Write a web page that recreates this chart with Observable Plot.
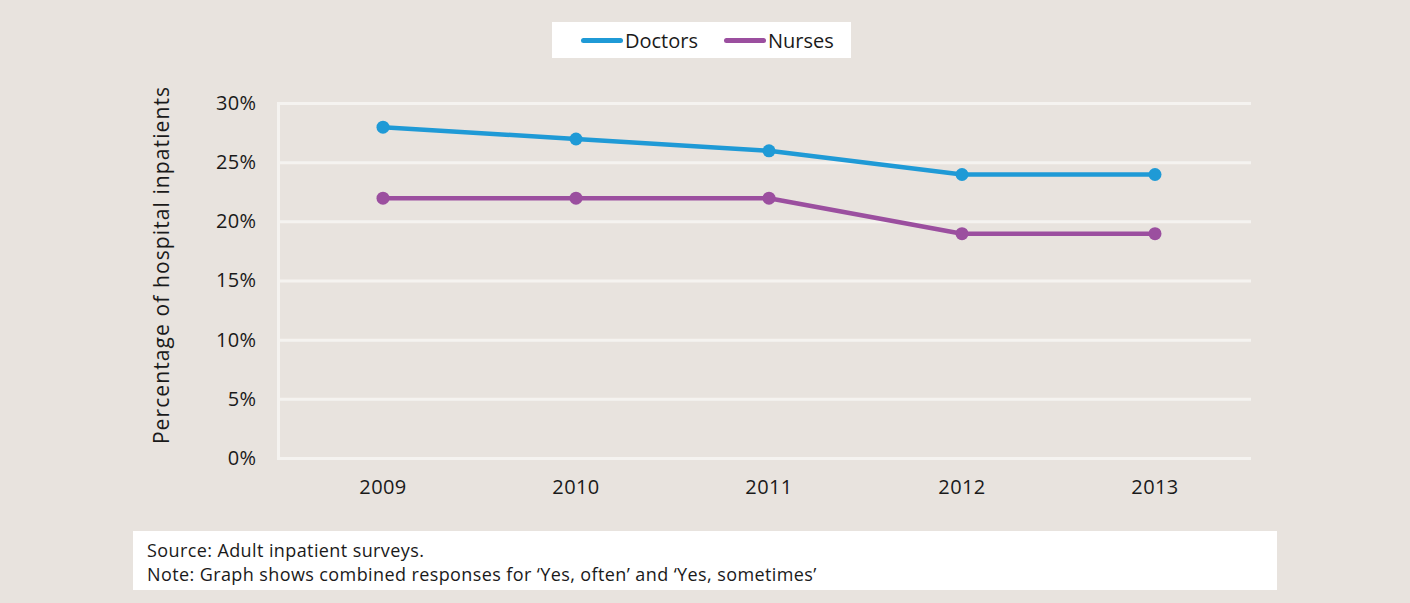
<!DOCTYPE html>
<html>
<head>
<meta charset="utf-8">
<script src="https://cdn.jsdelivr.net/npm/d3@7"></script>
<script src="https://cdn.jsdelivr.net/npm/@observablehq/plot@0.6"></script>
<style>
  html, body { margin: 0; padding: 0; background: #E8E3DE; }
  #chart { position: relative; width: 1410px; height: 603px; background: #E8E3DE; font-family: "Open Sans", sans-serif; color: #1a1a1a; overflow: hidden; }
  #chart svg { position: absolute; left: 0; top: 0; }
  #chart svg g[aria-label="text"] text { letter-spacing: 1.1px; }
  #chart svg g[aria-label="y-axis tick label"] text,
  #chart svg g[aria-label="x-axis tick label"] text { letter-spacing: 0.4px; }
  .legend { position: absolute; left: 552px; top: 22px; width: 299px; height: 36px; box-sizing: border-box; padding-left: 29px; background: #fff; display: flex; align-items: center; font-size: 20px; }
  .legend .item { display: flex; align-items: center; }
  .legend .swatch { width: 42px; height: 5px; border-radius: 3px; margin-right: 2px; }
  .note { position: absolute; left: 133px; top: 531px; width: 1144px; height: 59px; background: #fff; box-sizing: border-box; padding: 7px 0 0 14px; font-size: 18px; line-height: 24px; letter-spacing: 0.4px; }
</style>
</head>
<body>
<div id="chart"></div>
<script>
// Survey years and the share of inpatients answering "yes" (percent)
const years = ["2009", "2010", "2011", "2012", "2013"];
const doctors = [28, 27, 26, 24, 24];
const nurses = [22, 22, 22, 19, 19];
const seriesNames = ["Doctors", "Nurses"];
const seriesColors = ["#1F9AD6", "#9B4F9F"];
const yTicks = [0, 5, 10, 15, 20, 25, 30];
const yLabel = "Percentage of hospital inpatients";

const rows = [
  ...years.map((year, i) => ({year, series: "Doctors", value: doctors[i]})),
  ...years.map((year, i) => ({year, series: "Nurses", value: nurses[i]}))
];

const chart = document.getElementById("chart");

// Legend above the plot
const legend = document.createElement("div");
legend.className = "legend";
seriesNames.forEach((name, i) => {
  const item = document.createElement("div");
  item.className = "item";
  if (i > 0) item.style.marginLeft = "26px";
  const sw = document.createElement("span");
  sw.className = "swatch";
  sw.style.background = seriesColors[i];
  const label = document.createElement("span");
  label.textContent = name;
  item.append(sw, label);
  legend.append(item);
});

const plot = Plot.plot({
  width: 1410,
  height: 530,
  marginTop: 103,
  marginBottom: 72,
  marginLeft: 278,
  marginRight: 159,
  style: {background: "transparent", fontFamily: "Open Sans, sans-serif", color: "#1a1a1a"},
  x: {type: "band", domain: years, padding: 0, insetLeft: 7, label: null},
  y: {domain: [0, 30], label: null},
  color: {domain: seriesNames, range: seriesColors},
  marks: [
    Plot.ruleY(yTicks, {stroke: "#F5F3F0", strokeWidth: 3}),
    Plot.frame({anchor: "left", stroke: "#F5F3F0", strokeWidth: 3}),
    Plot.axisY(yTicks, {tickSize: 0, tickPadding: 22, fontSize: 20, tickFormat: d => d + "%", label: null}),
    Plot.axisX({tickSize: 0, tickPadding: 21, fontSize: 20, label: null}),
    Plot.text([yLabel], {frameAnchor: "left", textAnchor: "middle", dx: -116, dy: -16, rotate: -90, fontSize: 21, fill: "#1a1a1a"}),
    Plot.line(rows, {x: "year", y: "value", z: "series", stroke: "series", strokeWidth: 4.5}),
    Plot.dot(rows, {x: "year", y: "value", fill: "series", r: 6.5})
  ]
});

chart.append(plot, legend);

// Source note below the plot
const note = document.createElement("div");
note.className = "note";
note.innerHTML = "Source: Adult inpatient surveys.<br>Note: Graph shows combined responses for \u2018Yes, often\u2019 and \u2018Yes, sometimes\u2019";
chart.append(note);
</script>
</body>
</html>
